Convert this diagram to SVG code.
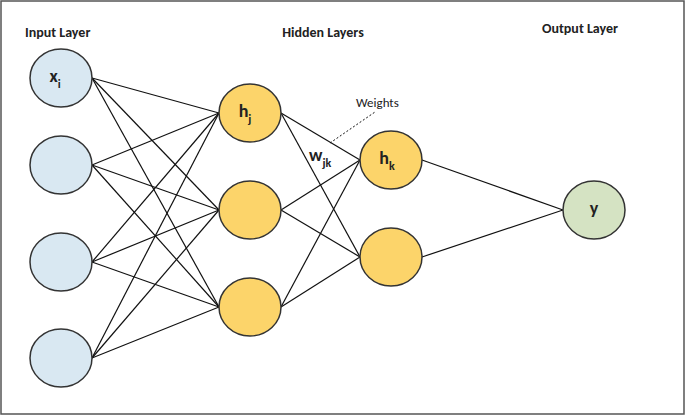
<svg xmlns="http://www.w3.org/2000/svg" width="685" height="415" viewBox="0 0 685 415">
<style>
text{font-family:Calibri,"Liberation Sans",Arial,sans-serif;fill:#222}
.t{font-size:14px;font-weight:bold}
.n{font-size:18px;font-weight:bold}
.s{font-size:12px;font-weight:bold}
.in{fill:#d9e8f2;stroke:#333;stroke-width:1.5}
.hd{fill:#fcd46a;stroke:#333;stroke-width:1.5}
.out{fill:#d5e3c3;stroke:#333;stroke-width:1.5}
#edges line{stroke:#111;stroke-width:1.2}
</style>
<rect x="1" y="1" width="683" height="413" fill="#fff" stroke="#555" stroke-width="1.5"/>
<text class="t" x="25" y="37">Input Layer</text>
<text class="t" x="323" y="37" text-anchor="middle">Hidden Layers</text>
<text class="t" x="580" y="33" text-anchor="middle">Output Layer</text>
<g id="edges">
<line x1="92" y1="78" x2="219" y2="113"/><line x1="92" y1="78" x2="219" y2="210"/><line x1="92" y1="78" x2="219" y2="307"/>
<line x1="92" y1="165" x2="219" y2="113"/><line x1="92" y1="165" x2="219" y2="210"/><line x1="92" y1="165" x2="219" y2="307"/>
<line x1="92" y1="262" x2="219" y2="113"/><line x1="92" y1="262" x2="219" y2="210"/><line x1="92" y1="262" x2="219" y2="307"/>
<line x1="92" y1="358" x2="219" y2="113"/><line x1="92" y1="358" x2="219" y2="210"/><line x1="92" y1="358" x2="219" y2="307"/>
<line x1="281" y1="113" x2="360" y2="160"/><line x1="281" y1="113" x2="360" y2="257"/>
<line x1="281" y1="210" x2="360" y2="160"/><line x1="281" y1="210" x2="360" y2="257"/>
<line x1="281" y1="307" x2="360" y2="160"/><line x1="281" y1="307" x2="360" y2="257"/>
<line x1="422" y1="160" x2="563" y2="210"/><line x1="422" y1="257" x2="563" y2="210"/>
<line x1="330" y1="143" x2="375" y2="112" style="stroke-dasharray:2 2;stroke-width:1"/>
</g>
<g id="in1"><ellipse class="in" cx="61" cy="78" rx="31" ry="29"/><text class="n" x="55" y="82" text-anchor="middle">x<tspan class="s" dy="6">i</tspan></text></g>
<g id="in2"><ellipse class="in" cx="61" cy="165" rx="31" ry="29"/></g>
<g id="in3"><ellipse class="in" cx="61" cy="262" rx="31" ry="29"/></g>
<g id="in4"><ellipse class="in" cx="61" cy="358" rx="31" ry="29"/></g>
<g id="h1"><ellipse class="hd" cx="250" cy="113" rx="31" ry="29"/><text class="n" x="245" y="117" text-anchor="middle">h<tspan class="s" dy="6">j</tspan></text></g>
<g id="h2"><ellipse class="hd" cx="250" cy="210" rx="31" ry="29"/></g>
<g id="h3"><ellipse class="hd" cx="250" cy="307" rx="31" ry="29"/></g>
<g id="k1"><ellipse class="hd" cx="391" cy="160" rx="31" ry="29"/><text class="n" x="387" y="164" text-anchor="middle">h<tspan class="s" dy="6">k</tspan></text></g>
<g id="k2"><ellipse class="hd" cx="391" cy="257" rx="31" ry="29"/></g>
<g id="out"><ellipse class="out" cx="594" cy="210" rx="31" ry="29"/><text class="n" x="594" y="214" text-anchor="middle">y</text></g>
<g id="w"><text class="n" x="309" y="161">w<tspan class="s" dy="6">jk</tspan></text><text x="356" y="107" style="font-size:13px">Weights</text></g>
</svg>
